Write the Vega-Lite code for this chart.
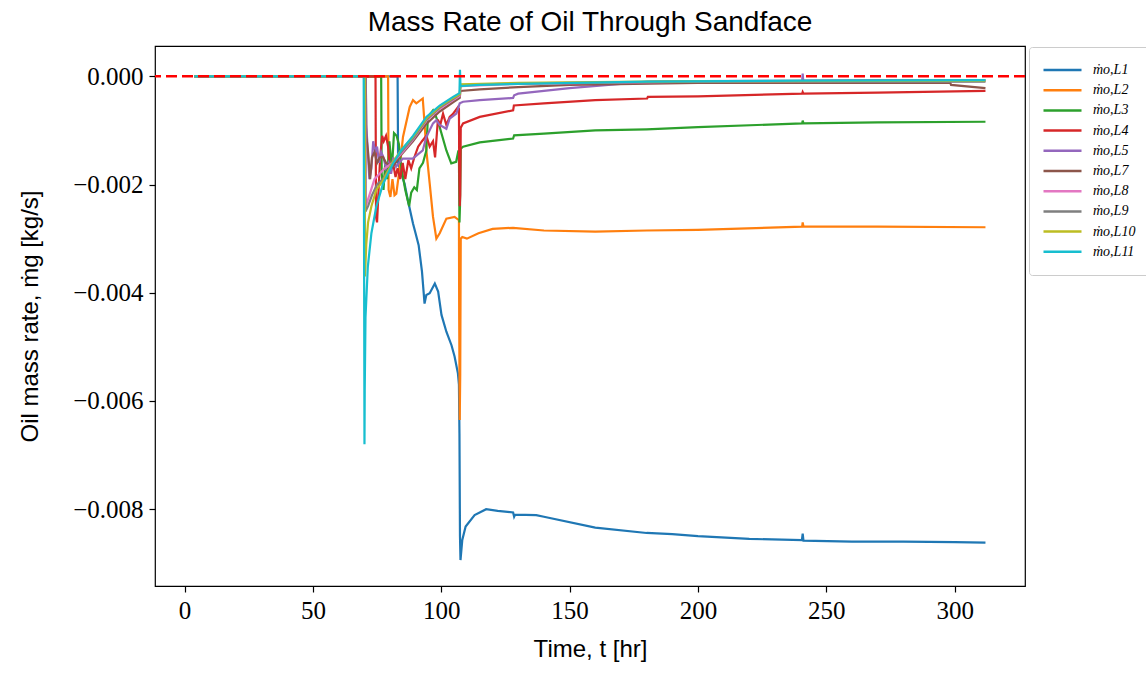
{
  "$schema": "https://vega.github.io/schema/vega-lite/v6.json",
  "width": 870,
  "height": 540,
  "autosize": {"type": "none"},
  "padding": {"left": 155, "top": 46, "right": 121, "bottom": 90},
  "background": "white",
  "title": {"text": "Mass Rate of Oil Through Sandface", "font": "Liberation Sans", "fontSize": 28, "fontWeight": "normal", "color": "black", "offset": 9},
  "config": {
    "view": {"stroke": "black", "strokeWidth": 1.2},
    "axis": {"domain": false, "grid": false, "tickColor": "black", "tickSize": 6, "tickWidth": 1.2, "labelColor": "black", "labelFont": "Liberation Serif", "labelFontSize": 25, "titleFont": "Liberation Sans", "titleFontSize": 24, "titleFontWeight": "normal", "titleColor": "black", "labelPadding": 6}
  },
  "layer": [
    {
      "data": {"values": [
        {"s":"L1","t":3.9,"v":0},{"s":"L1","t":83.0,"v":0},{"s":"L1","t":83.2,"v":-0.0016},{"s":"L1","t":84.4,"v":-0.0018},{"s":"L1","t":85.7,"v":-0.00198},{"s":"L1","t":87.0,"v":-0.00229},{"s":"L1","t":89.0,"v":-0.00272},{"s":"L1","t":90.0,"v":-0.0029},{"s":"L1","t":91.2,"v":-0.00312},{"s":"L1","t":92.5,"v":-0.00361},{"s":"L1","t":93.5,"v":-0.0042},{"s":"L1","t":94.2,"v":-0.00404},{"s":"L1","t":95.5,"v":-0.00401},{"s":"L1","t":97.5,"v":-0.00383},{"s":"L1","t":98.8,"v":-0.00398},{"s":"L1","t":100.1,"v":-0.00441},{"s":"L1","t":102.0,"v":-0.00472},{"s":"L1","t":104.0,"v":-0.00497},{"s":"L1","t":105.2,"v":-0.00518},{"s":"L1","t":106.5,"v":-0.00549},{"s":"L1","t":106.9,"v":-0.0057},{"s":"L1","t":107.1,"v":-0.0066},{"s":"L1","t":107.3,"v":-0.0085},{"s":"L1","t":107.5,"v":-0.00894},{"s":"L1","t":108.2,"v":-0.00857},{"s":"L1","t":109.5,"v":-0.00832},{"s":"L1","t":113,"v":-0.00811},{"s":"L1","t":117.5,"v":-0.008},{"s":"L1","t":122,"v":-0.00803},{"s":"L1","t":128,"v":-0.00806},{"s":"L1","t":128.4,"v":-0.00814},{"s":"L1","t":128.8,"v":-0.0081},{"s":"L1","t":137,"v":-0.00811},{"s":"L1","t":140,"v":-0.00814},{"s":"L1","t":160,"v":-0.00834},{"s":"L1","t":180,"v":-0.00844},{"s":"L1","t":190,"v":-0.00846},{"s":"L1","t":200,"v":-0.0085},{"s":"L1","t":220,"v":-0.00855},{"s":"L1","t":240.5,"v":-0.00857},{"s":"L1","t":240.8,"v":-0.00845},{"s":"L1","t":241.1,"v":-0.00858},{"s":"L1","t":260,"v":-0.0086},{"s":"L1","t":280,"v":-0.0086},{"s":"L1","t":300,"v":-0.00861},{"s":"L1","t":312,"v":-0.00862},
        {"s":"L2","t":3.9,"v":0},{"s":"L2","t":79.3,"v":0},{"s":"L2","t":79.5,"v":-0.0021},{"s":"L2","t":80.2,"v":-0.00223},{"s":"L2","t":81.0,"v":-0.0019},{"s":"L2","t":81.8,"v":-0.0022},{"s":"L2","t":82.5,"v":-0.00217},{"s":"L2","t":83.8,"v":-0.0017},{"s":"L2","t":85.1,"v":-0.00112},{"s":"L2","t":87.7,"v":-0.00057},{"s":"L2","t":89.0,"v":-0.00044},{"s":"L2","t":90.3,"v":-0.0005},{"s":"L2","t":92.8,"v":-0.00041},{"s":"L2","t":93.5,"v":-0.00087},{"s":"L2","t":94.2,"v":-0.00137},{"s":"L2","t":95.5,"v":-0.00198},{"s":"L2","t":96.8,"v":-0.0026},{"s":"L2","t":98.1,"v":-0.003},{"s":"L2","t":99.4,"v":-0.0029},{"s":"L2","t":102,"v":-0.00263},{"s":"L2","t":105.2,"v":-0.0026},{"s":"L2","t":106.9,"v":-0.00266},{"s":"L2","t":107.0,"v":-0.0045},{"s":"L2","t":107.2,"v":-0.00635},{"s":"L2","t":107.4,"v":-0.0055},{"s":"L2","t":107.6,"v":-0.003},{"s":"L2","t":108.2,"v":-0.00297},{"s":"L2","t":110,"v":-0.003},{"s":"L2","t":114.5,"v":-0.0029},{"s":"L2","t":120,"v":-0.00282},{"s":"L2","t":128,"v":-0.0028},{"s":"L2","t":140,"v":-0.00285},{"s":"L2","t":160,"v":-0.00287},{"s":"L2","t":180,"v":-0.00285},{"s":"L2","t":200,"v":-0.00284},{"s":"L2","t":240.6,"v":-0.00278},{"s":"L2","t":240.8,"v":-0.0027},{"s":"L2","t":241.1,"v":-0.00278},{"s":"L2","t":270,"v":-0.00278},{"s":"L2","t":312,"v":-0.00279},
        {"s":"L3","t":3.9,"v":0},{"s":"L3","t":76.6,"v":0},{"s":"L3","t":76.8,"v":-0.0018},{"s":"L3","t":77.5,"v":-0.0021},{"s":"L3","t":78.2,"v":-0.0016},{"s":"L3","t":79.0,"v":-0.0019},{"s":"L3","t":79.8,"v":-0.0012},{"s":"L3","t":80.8,"v":-0.0017},{"s":"L3","t":81.6,"v":-0.00105},{"s":"L3","t":82.6,"v":-0.0011},{"s":"L3","t":83.5,"v":-0.00125},{"s":"L3","t":84.5,"v":-0.0017},{"s":"L3","t":86.0,"v":-0.0021},{"s":"L3","t":87.5,"v":-0.0024},{"s":"L3","t":88.3,"v":-0.00215},{"s":"L3","t":89.5,"v":-0.00205},{"s":"L3","t":90.5,"v":-0.0021},{"s":"L3","t":91.5,"v":-0.0017},{"s":"L3","t":92.9,"v":-0.0016},{"s":"L3","t":94.2,"v":-0.00137},{"s":"L3","t":94.8,"v":-0.00075},{"s":"L3","t":96.8,"v":-0.00063},{"s":"L3","t":98.0,"v":-0.00075},{"s":"L3","t":99.4,"v":-0.00094},{"s":"L3","t":102.0,"v":-0.00137},{"s":"L3","t":103.9,"v":-0.00161},{"s":"L3","t":105.8,"v":-0.00158},{"s":"L3","t":106.7,"v":-0.00137},{"s":"L3","t":106.9,"v":-0.0015},{"s":"L3","t":107.1,"v":-0.0027},{"s":"L3","t":107.3,"v":-0.0024},{"s":"L3","t":107.6,"v":-0.00134},{"s":"L3","t":108.5,"v":-0.0013},{"s":"L3","t":115,"v":-0.00122},{"s":"L3","t":128,"v":-0.00115},{"s":"L3","t":128.4,"v":-0.00109},{"s":"L3","t":140,"v":-0.00106},{"s":"L3","t":160,"v":-0.001},{"s":"L3","t":180,"v":-0.00098},{"s":"L3","t":200,"v":-0.00094},{"s":"L3","t":240.6,"v":-0.00087},{"s":"L3","t":240.8,"v":-0.00082},{"s":"L3","t":241.1,"v":-0.00087},{"s":"L3","t":270,"v":-0.00085},{"s":"L3","t":312,"v":-0.00084},
        {"s":"L4","t":3.9,"v":0},{"s":"L4","t":74.4,"v":0},{"s":"L4","t":74.6,"v":-0.0026},{"s":"L4","t":75.0,"v":-0.0027},{"s":"L4","t":75.5,"v":-0.0022},{"s":"L4","t":76.2,"v":-0.0015},{"s":"L4","t":77.0,"v":-0.0011},{"s":"L4","t":77.6,"v":-0.0012},{"s":"L4","t":78.5,"v":-0.0011},{"s":"L4","t":79.3,"v":-0.0013},{"s":"L4","t":80.2,"v":-0.0018},{"s":"L4","t":81.2,"v":-0.0016},{"s":"L4","t":82.2,"v":-0.00186},{"s":"L4","t":83.0,"v":-0.0017},{"s":"L4","t":84.0,"v":-0.0019},{"s":"L4","t":85.0,"v":-0.0016},{"s":"L4","t":86.0,"v":-0.0019},{"s":"L4","t":87.2,"v":-0.00155},{"s":"L4","t":88.3,"v":-0.0017},{"s":"L4","t":89.5,"v":-0.0015},{"s":"L4","t":91.0,"v":-0.0013},{"s":"L4","t":92.5,"v":-0.0012},{"s":"L4","t":94.2,"v":-0.0011},{"s":"L4","t":95.5,"v":-0.0013},{"s":"L4","t":96.8,"v":-0.0012},{"s":"L4","t":97.6,"v":-0.0015},{"s":"L4","t":98.7,"v":-0.0008},{"s":"L4","t":99.6,"v":-0.0009},{"s":"L4","t":100.7,"v":-0.00069},{"s":"L4","t":102.0,"v":-0.0009},{"s":"L4","t":103.3,"v":-0.00075},{"s":"L4","t":104.5,"v":-0.0007},{"s":"L4","t":106.5,"v":-0.00057},{"s":"L4","t":106.9,"v":-0.0006},{"s":"L4","t":107.0,"v":-0.0016},{"s":"L4","t":107.2,"v":-0.0024},{"s":"L4","t":107.4,"v":-0.0022},{"s":"L4","t":107.6,"v":-0.00095},{"s":"L4","t":108.5,"v":-0.00087},{"s":"L4","t":115,"v":-0.00075},{"s":"L4","t":128,"v":-0.00063},{"s":"L4","t":128.3,"v":-0.00054},{"s":"L4","t":140,"v":-0.0005},{"s":"L4","t":160,"v":-0.00044},{"s":"L4","t":180.2,"v":-0.00041},{"s":"L4","t":180.5,"v":-0.00038},{"s":"L4","t":200,"v":-0.00037},{"s":"L4","t":240.6,"v":-0.00032},{"s":"L4","t":240.8,"v":-0.00029},{"s":"L4","t":241.1,"v":-0.00032},{"s":"L4","t":270,"v":-0.0003},{"s":"L4","t":300,"v":-0.00028},{"s":"L4","t":312,"v":-0.00027},
        {"s":"L5","t":3.9,"v":0},{"s":"L5","t":70.6,"v":0},{"s":"L5","t":70.8,"v":-0.0009},{"s":"L5","t":71.3,"v":-0.0013},{"s":"L5","t":72.0,"v":-0.0019},{"s":"L5","t":72.8,"v":-0.0017},{"s":"L5","t":73.5,"v":-0.0012},{"s":"L5","t":74.3,"v":-0.0014},{"s":"L5","t":75.0,"v":-0.0013},{"s":"L5","t":75.8,"v":-0.0016},{"s":"L5","t":76.6,"v":-0.0014},{"s":"L5","t":77.5,"v":-0.0015},{"s":"L5","t":78.5,"v":-0.0017},{"s":"L5","t":79.5,"v":-0.0016},{"s":"L5","t":80.5,"v":-0.0018},{"s":"L5","t":81.3,"v":-0.0015},{"s":"L5","t":82.4,"v":-0.00167},{"s":"L5","t":85.0,"v":-0.00152},{"s":"L5","t":88.9,"v":-0.00152},{"s":"L5","t":92.8,"v":-0.00137},{"s":"L5","t":94.2,"v":-0.00112},{"s":"L5","t":96.8,"v":-0.00087},{"s":"L5","t":98.1,"v":-0.00081},{"s":"L5","t":99.4,"v":-0.0009},{"s":"L5","t":102.0,"v":-0.00097},{"s":"L5","t":103.3,"v":-0.00078},{"s":"L5","t":105.9,"v":-0.00069},{"s":"L5","t":107.2,"v":-0.0005},{"s":"L5","t":108.5,"v":-0.00047},{"s":"L5","t":115,"v":-0.00044},{"s":"L5","t":128,"v":-0.0004},{"s":"L5","t":128.4,"v":-0.00035},{"s":"L5","t":130,"v":-0.00032},{"s":"L5","t":150,"v":-0.00022},{"s":"L5","t":180.4,"v":-0.0001},{"s":"L5","t":200,"v":-0.00009},{"s":"L5","t":240.6,"v":-0.00008},{"s":"L5","t":240.8,"v":0.00005},{"s":"L5","t":241.0,"v":-0.00008},{"s":"L5","t":270,"v":-0.00007},{"s":"L5","t":312,"v":-0.00007},
        {"s":"L7","t":3.9,"v":0},{"s":"L7","t":70.6,"v":0},{"s":"L7","t":70.8,"v":-0.0011},{"s":"L7","t":71.5,"v":-0.0014},{"s":"L7","t":72.3,"v":-0.0019},{"s":"L7","t":73.0,"v":-0.0015},{"s":"L7","t":74.0,"v":-0.0014},{"s":"L7","t":75.0,"v":-0.0016},{"s":"L7","t":76.0,"v":-0.0015},{"s":"L7","t":77.3,"v":-0.00149},{"s":"L7","t":78.5,"v":-0.0016},{"s":"L7","t":81.0,"v":-0.00168},{"s":"L7","t":84.4,"v":-0.00145},{"s":"L7","t":89.0,"v":-0.0012},{"s":"L7","t":94.2,"v":-0.00088},{"s":"L7","t":99.4,"v":-0.00065},{"s":"L7","t":104.6,"v":-0.00048},{"s":"L7","t":107.2,"v":-0.0004},{"s":"L7","t":107.5,"v":-0.00027},{"s":"L7","t":115,"v":-0.00024},{"s":"L7","t":130,"v":-0.0002},{"s":"L7","t":150,"v":-0.00016},{"s":"L7","t":200,"v":-0.00012},{"s":"L7","t":250,"v":-0.00012},{"s":"L7","t":298.3,"v":-0.00012},{"s":"L7","t":298.6,"v":-0.00016},{"s":"L7","t":312,"v":-0.00022},
        {"s":"L8","t":3.9,"v":0},{"s":"L8","t":70.4,"v":0},{"s":"L8","t":70.6,"v":-0.0024},{"s":"L8","t":72.0,"v":-0.0022},{"s":"L8","t":74.0,"v":-0.0019},{"s":"L8","t":76.0,"v":-0.0018},{"s":"L8","t":78.0,"v":-0.0017},{"s":"L8","t":81.0,"v":-0.0016},{"s":"L8","t":84.4,"v":-0.00143},{"s":"L8","t":89.0,"v":-0.00117},{"s":"L8","t":94.2,"v":-0.00082},{"s":"L8","t":99.4,"v":-0.0006},{"s":"L8","t":104.6,"v":-0.00044},{"s":"L8","t":107.2,"v":-0.00036},{"s":"L8","t":107.5,"v":-0.00018},{"s":"L8","t":130,"v":-0.00014},{"s":"L8","t":200,"v":-0.0001},{"s":"L8","t":312,"v":-0.00009},
        {"s":"L9","t":3.9,"v":0},{"s":"L9","t":70.4,"v":0},{"s":"L9","t":70.5,"v":-0.0025},{"s":"L9","t":71.5,"v":-0.0024},{"s":"L9","t":73.0,"v":-0.0022},{"s":"L9","t":75.0,"v":-0.002},{"s":"L9","t":77.3,"v":-0.0019},{"s":"L9","t":81.0,"v":-0.0016},{"s":"L9","t":84.4,"v":-0.0014},{"s":"L9","t":89.0,"v":-0.00115},{"s":"L9","t":94.2,"v":-0.0008},{"s":"L9","t":99.4,"v":-0.00058},{"s":"L9","t":104.6,"v":-0.00042},{"s":"L9","t":107.2,"v":-0.00034},{"s":"L9","t":107.5,"v":-0.00016},{"s":"L9","t":130,"v":-0.00013},{"s":"L9","t":200,"v":-0.0001},{"s":"L9","t":312,"v":-0.0001},
        {"s":"L10","t":3.9,"v":0},{"s":"L10","t":70.2,"v":0},{"s":"L10","t":70.3,"v":-0.0037},{"s":"L10","t":70.8,"v":-0.0031},{"s":"L10","t":71.5,"v":-0.0027},{"s":"L10","t":72.8,"v":-0.0024},{"s":"L10","t":74.7,"v":-0.0021},{"s":"L10","t":77.3,"v":-0.00193},{"s":"L10","t":81.2,"v":-0.00158},{"s":"L10","t":84.4,"v":-0.00136},{"s":"L10","t":89.0,"v":-0.00112},{"s":"L10","t":94.2,"v":-0.00078},{"s":"L10","t":99.4,"v":-0.00056},{"s":"L10","t":104.6,"v":-0.0004},{"s":"L10","t":107.2,"v":-0.00033},{"s":"L10","t":107.5,"v":-0.00015},{"s":"L10","t":130,"v":-0.00012},{"s":"L10","t":200,"v":-0.00009},{"s":"L10","t":312,"v":-0.00008},
        {"s":"L11","t":3.9,"v":0},{"s":"L11","t":69.8,"v":0},{"s":"L11","t":70.1,"v":-0.0068},{"s":"L11","t":70.2,"v":-0.0058},{"s":"L11","t":70.5,"v":-0.00445},{"s":"L11","t":71.4,"v":-0.00352},{"s":"L11","t":72.8,"v":-0.0029},{"s":"L11","t":74.7,"v":-0.00241},{"s":"L11","t":77.3,"v":-0.00199},{"s":"L11","t":81.2,"v":-0.00161},{"s":"L11","t":84.4,"v":-0.00137},{"s":"L11","t":89.0,"v":-0.0011},{"s":"L11","t":94.2,"v":-0.00075},{"s":"L11","t":99.4,"v":-0.00054},{"s":"L11","t":104.6,"v":-0.00038},{"s":"L11","t":107.1,"v":-0.00031},{"s":"L11","t":107.3,"v":0.00012},{"s":"L11","t":107.5,"v":-0.00018},{"s":"L11","t":115,"v":-0.00016},{"s":"L11","t":130,"v":-0.00014},{"s":"L11","t":180,"v":-0.0001},{"s":"L11","t":240,"v":-0.00008},{"s":"L11","t":312,"v":-0.00007}
      ]},
      "mark": {"type": "line", "strokeWidth": 2.2, "clip": true},
      "encoding": {
        "x": {"field": "t", "type": "quantitative", "scale": {"domain": [-11.5, 327.4], "nice": false, "zero": false}, "axis": {"values": [0, 50, 100, 150, 200, 250, 300], "title": "Time, t [hr]", "titlePadding": 14}},
        "y": {"field": "v", "type": "quantitative", "scale": {"domain": [-0.00942, 0.00056], "nice": false, "zero": false}, "axis": {"values": [0, -0.002, -0.004, -0.006, -0.008], "format": ".3f", "title": "Oil mass rate, ṁg [kg/s]", "titlePadding": 30}},
        "color": {"field": "s", "type": "nominal",
          "scale": {"domain": ["L1","L2","L3","L4","L5","L7","L8","L9","L10","L11"], "range": ["#1f77b4","#ff7f0e","#2ca02c","#d62728","#9467bd","#8c564b","#e377c2","#7f7f7f","#bcbd22","#17becf"]},
          "legend": {"title": null, "orient": "none", "legendX": 874, "legendY": 1, "symbolType": "stroke", "symbolSize": 1444, "symbolStrokeWidth": 2.5, "clipHeight": 20, "rowPadding": 0.2, "labelOffset": 10, "labelFont": "Liberation Serif", "labelFontStyle": "italic", "labelFontSize": 14, "labelColor": "black", "labelExpr": "'ṁo,' + datum.label", "padding": 13, "strokeColor": "#cccccc", "fillColor": "white", "cornerRadius": 3}
        }
      }
    },
    {
      "data": {"values": [{"ref": 0}]},
      "mark": {"type": "rule", "color": "red", "strokeDash": [11, 5], "strokeWidth": 2.5},
      "encoding": {"y": {"field": "ref", "type": "quantitative", "title": "Oil mass rate, ṁg [kg/s]"}}
    }
  ]
}
